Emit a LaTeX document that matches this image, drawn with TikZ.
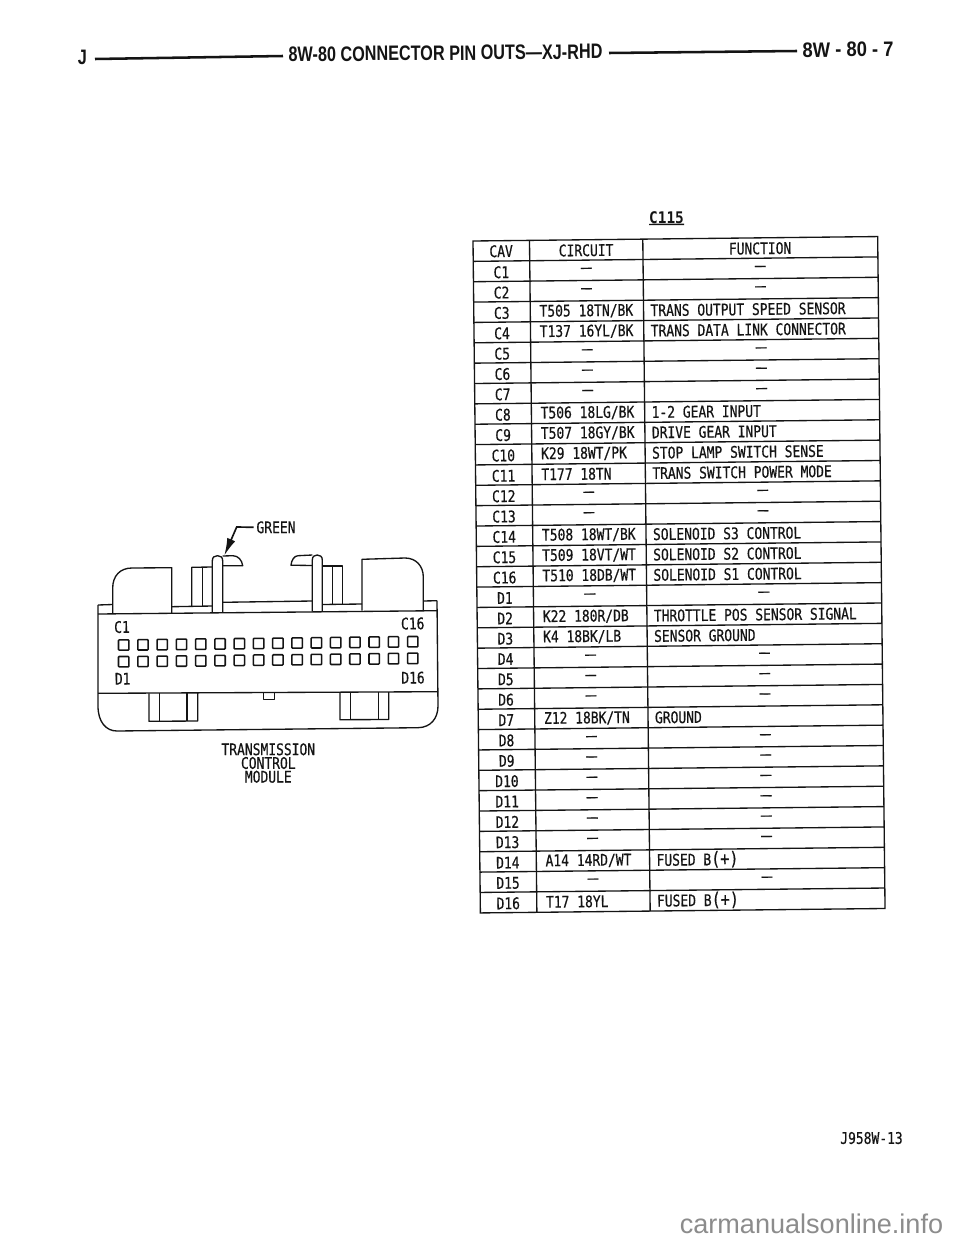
\documentclass[tikz,border=0pt]{standalone}
\usepackage{fontspec}
\usetikzlibrary{arrows.meta}
\newfontfamily\techfont[FakeStretch=0.81,FakeBold=0.5]{DejaVu Sans Mono}
\newfontfamily\dashfont[FakeStretch=1.12,FakeBold=0.6]{DejaVu Sans Mono}
\newfontfamily\techbold[FakeStretch=0.9]{DejaVu Sans Mono Bold}
\newfontfamily\headfont[FakeStretch=0.775]{Liberation Sans Bold}
\newfontfamily\pagefont[FakeStretch=0.88]{Liberation Sans Bold}
\newfontfamily\markfont{Liberation Sans}
\definecolor{ink}{gray}{0.08}
\newcommand{\bigparen}[1]{{\fontsize{14}{14}\selectfont #1}}
\tikzset{
  tech/.style={inner sep=0pt,text=ink,font=\techfont\fontsize{12}{14}\selectfont},
  nodash/.style={inner sep=0pt,text=ink,font=\dashfont\fontsize{12}{14}\selectfont},
  head/.style={inner sep=0pt,text=ink,font=\headfont\fontsize{15.7}{18}\selectfont},
  rule/.style={draw=ink,line width=1pt},
  part/.style={draw=ink,line width=1pt,line join=round},
  pin/.style={draw=ink,line width=1.15pt,rounded corners=0.6pt},
  headrule/.style={draw=ink,line width=1.9pt},
  slant/.style={rotate=0.6}
}
\newcommand{\rowtext}[4]{%
  \node[tech] (cav#1) at (28,{(#1+0.55)*20.36}) {#2};
  \node[tech,anchor=west] (cir#1) at (65.5,{(#1+0.5)*20.36}) {#3};
  \node[tech,anchor=west] (fun#1) at (176.5,{(#1+0.5)*20.36}) {#4};
}
\newcommand{\rowdash}[2]{%
  \node[tech] (cav#1) at (28,{(#1+0.55)*20.36}) {#2};
  \node[nodash] (cir#1) at (113,{(#1+0.5)*20.36}) {—};
  \node[nodash] (fun#1) at (287,{(#1+0.5)*20.36}) {—};
}
\begin{document}
\begin{tikzpicture}[x=0.75pt,y=-0.75pt]
\useasboundingbox[fill=white] (0,0) rectangle (960,1242);

% page header
\node[head] (jmark) at (82.5,57.5) {J};
\node[head,rotate=0.55] (title) at (445.5,53) {8W-80 CONNECTOR PIN OUTS—XJ-RHD};
\node[head,font=\pagefont\fontsize{15.7}{18}\selectfont,rotate=0.55] (pageno) at (848,49.5) {8W - 80 - 7};
\coordinate (rule1a) at (95,59);
\coordinate (rule1b) at (283,56);
\coordinate (rule2a) at (609,53);
\coordinate (rule2b) at (797,51);
\draw[headrule] (rule1a) -- (rule1b);
\draw[headrule] (rule2a) -- (rule2b);

% table title
\node[inner sep=0pt,text=ink,font=\techbold\fontsize{12}{14}\selectfont] (ctitle) at (666.5,218) {C115};
\draw[draw=ink,line width=1.1pt] (649,224.5) -- (684,224.3);

% table
\begin{scope}[shift={(473,241)},rotate=0.63,transform shape]
  \draw[rule] (0,0) rectangle (404.7,672);
  \draw[rule] (56.5,0) -- (56.5,672);
  \draw[rule] (169.8,0) -- (169.8,672);
  \foreach \r in {1,...,32} \draw[rule] (0,{\r*20.36}) -- (404.7,{\r*20.36});
  \node[tech] (hcav) at (28,10.5) {CAV};
  \node[tech] (hcir) at (113,10.5) {CIRCUIT};
  \node[tech] (hfun) at (287,10.5) {FUNCTION};
  \rowdash{1}{C1}
  \rowdash{2}{C2}
  \rowtext{3}{C3}{T505 18TN/BK}{TRANS OUTPUT SPEED SENSOR}
  \rowtext{4}{C4}{T137 16YL/BK}{TRANS DATA LINK CONNECTOR}
  \rowdash{5}{C5}
  \rowdash{6}{C6}
  \rowdash{7}{C7}
  \rowtext{8}{C8}{T506 18LG/BK}{1-2 GEAR INPUT}
  \rowtext{9}{C9}{T507 18GY/BK}{DRIVE GEAR INPUT}
  \rowtext{10}{C10}{K29 18WT/PK}{STOP LAMP SWITCH SENSE}
  \rowtext{11}{C11}{T177 18TN}{TRANS SWITCH POWER MODE}
  \rowdash{12}{C12}
  \rowdash{13}{C13}
  \rowtext{14}{C14}{T508 18WT/BK}{SOLENOID S3 CONTROL}
  \rowtext{15}{C15}{T509 18VT/WT}{SOLENOID S2 CONTROL}
  \rowtext{16}{C16}{T510 18DB/WT}{SOLENOID S1 CONTROL}
  \rowdash{17}{D1}
  \rowtext{18}{D2}{K22 180R/DB}{THROTTLE POS SENSOR SIGNAL}
  \rowtext{19}{D3}{K4 18BK/LB}{SENSOR GROUND}
  \rowdash{20}{D4}
  \rowdash{21}{D5}
  \rowdash{22}{D6}
  \rowtext{23}{D7}{Z12 18BK/TN}{GROUND}
  \rowdash{24}{D8}
  \rowdash{25}{D9}
  \rowdash{26}{D10}
  \rowdash{27}{D11}
  \rowdash{28}{D12}
  \rowdash{29}{D13}
  \rowtext{30}{D14}{A14 14RD/WT}{FUSED B\bigparen{(+)}}
  \rowdash{31}{D15}
  \rowtext{32}{D16}{T17 18YL}{FUSED B\bigparen{(+)}}
\end{scope}

% connector body
\draw[part] (98,614) -- (437,610.7);
\draw[part] (98,693.3) -- (438,691.7);
\draw[part] (98,605) -- (98,706)
  .. controls (98,722) and (106,731) .. (117,731) -- (418,727.7)
  .. controls (431,727.5) and (438,718) .. (438,706) -- (437,600.7);
\draw[part] (98,605) -- (112.7,604.5);
\draw[part] (437,600.7) -- (423.3,601);
% end blocks
\draw[part] (112.7,612.8) -- (112.7,588) .. controls (112.7,576) and (120,568) .. (132,568) -- (171.7,567.7) -- (171.7,612.8);
\draw[part] (362,610.7) -- (362,559.3) -- (405,558) .. controls (416,558) and (423.3,566) .. (423.3,577) -- (423.3,610);
% left ribs
\draw[part] (171.7,606.7) -- (212.3,606);
\draw[part] (191.7,606.2) -- (191.7,567.3) -- (212.3,567);
\draw[part] (202.5,606) -- (202.5,567.2);
% left latch
\draw[part] (212.3,612.3) -- (212.3,561) .. controls (212.3,557) and (214.5,555.7) .. (217.5,555.7) .. controls (220.5,555.7) and (222.7,557) .. (222.7,561) -- (222.7,612);
\draw[part] (222.7,556) -- (233,555.7) .. controls (238,555.8) and (242,560) .. (242.7,565.7) -- (222.7,565.7);
% middle band
\draw[part] (222.7,602.3) -- (312.3,601);
% right latch
\draw[part] (312.3,611.5) -- (312.3,560) .. controls (312.3,556.5) and (314.5,555) .. (317.3,555) .. controls (320,555) and (322.3,556.5) .. (322.3,560) -- (322.3,611);
\draw[part] (312.3,555) -- (298,555.7) .. controls (294,556) and (291.5,560) .. (291,565.2) -- (312.3,565.5);
% right ribs
\draw[part] (322.3,566) -- (342.7,566) -- (342.7,604);
\draw[part] (332.7,566) -- (332.7,604.3);
\draw[part] (322.3,604.5) -- (362,604);
% lower tabs
\draw[part] (149,693.3) -- (149,721.3) -- (197.7,721) -- (197.7,693);
\draw[part] (159.3,693.2) -- (159.3,721.2);
\draw[part] (187,693) -- (187,721);
\draw[part] (340,692.3) -- (340,719.7) -- (388.7,719.5) -- (388.7,692);
\draw[part] (350.3,692.3) -- (350.3,719.6);
\draw[part] (378.3,692) -- (378.3,719.5);
\draw[part] (263.3,692.7) -- (263.3,699.3) -- (274.7,699.3) -- (274.7,692.6);

% pins
\foreach \n in {0,...,15} {
  \pgfmathsetmacro\px{123.7+\n*19.27}
  \pgfmathsetmacro\py{645-\n*0.22}
  \draw[pin,shift={(\px,\py)}] (-5.2,-5.2) rectangle (5.2,5.2);
  \draw[pin,shift={(\px,\py+16.7)}] (-5.2,-5.2) rectangle (5.2,5.2);
}

% connector labels
\node[tech,slant] (lc1) at (122,627) {C1};
\node[tech,slant] (lc16) at (412.7,623.5) {C16};
\node[tech,slant] (ld1) at (122.7,678.7) {D1};
\node[tech,slant] (ld16) at (413,677.7) {D16};
\node[tech] (green) at (276,527.3) {GREEN};
\coordinate (greenelbow) at (236.7,527);
\coordinate (greentip) at (224.3,555.5);
\draw[draw=ink,line width=1.25pt,-{Latex[length=13pt,width=6.5pt]}] ([xshift=-2pt]green.west) -- (greenelbow) -- (greentip);
\node[tech] (cap1) at (268.3,749.3) {TRANSMISSION};
\node[tech] (cap2) at (268.3,763) {CONTROL};
\node[tech] (cap3) at (268.3,776.7) {MODULE};

% figure code
\node[tech] (figcode) at (871.5,1138) {J958W-13};
% site mark
\node[inner sep=0pt,anchor=base,text=black!45,font=\markfont\fontsize{20.3}{22}\selectfont] (sitemark) at (811.5,1233) {carmanualsonline.info};
\end{tikzpicture}
\end{document}
